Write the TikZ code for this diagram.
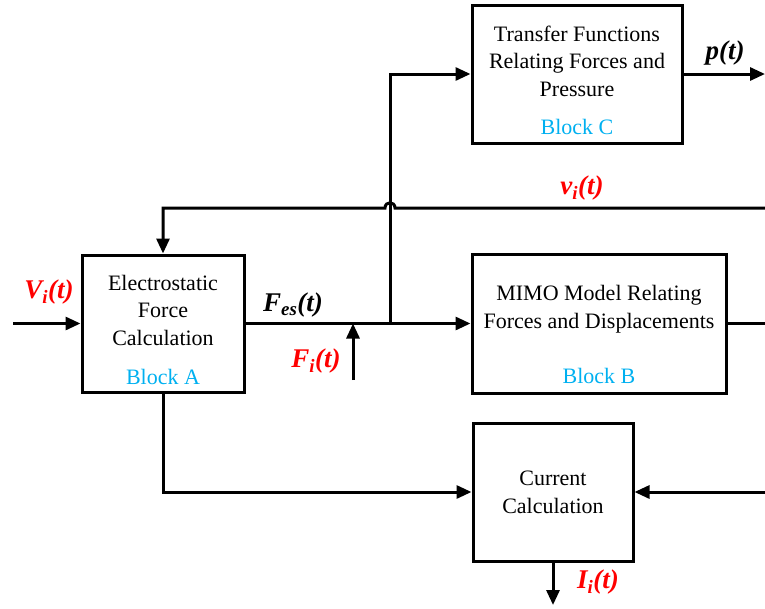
\documentclass[tikz,border=0pt]{standalone}
\usepackage{fontspec}
\setmainfont{Liberation Serif}
\usetikzlibrary{arrows.meta}
\definecolor{lblred}{HTML}{FF0000}
\definecolor{blkblue}{HTML}{00B0F0}
\tikzset{
  blk/.style={draw, line width=3pt, inner sep=0pt},
  wire/.style={line width=3pt},
  arr/.style={line width=3pt, -{Triangle[length=15pt,width=13pt]}},
  btxt/.style={align=center, font=\fontsize{22}{27.5}\selectfont, inner sep=0pt},
  bname/.style={text=blkblue, font=\fontsize{22}{27}\selectfont, inner sep=0pt},
  sig/.style={font=\fontsize{27}{30}\selectfont\bfseries\itshape, inner sep=0pt},
}
\begin{document}
\begin{tikzpicture}[x=1pt,y=-1pt]
\useasboundingbox (0,0) rectangle (765,608);
% blocks
\node[blk, minimum width=162pt, minimum height=137pt] (A) at (163,323.5) {};
\node[blk, minimum width=210pt, minimum height=138pt] (C) at (577,74) {};
\node[blk, minimum width=254pt, minimum height=139pt] (B) at (599,323.5) {};
\node[blk, minimum width=160pt, minimum height=138pt] (D) at (553,492) {};
% block texts
\node[btxt] (At) at (163,310) {Electrostatic\\Force\\Calculation};
\node[bname] (An) at (163,377) {Block A};
\node[btxt] (Ct) at (577,61) {Transfer Functions\\Relating Forces and\\Pressure};
\node[bname] (Cn) at (577,127) {Block C};
\node[btxt] (Bt) at (599,309) {MIMO Model Relating\\Forces and Displacements};
\node[bname] (Bn) at (599,376) {Block B};
\node[btxt] (Dt) at (553,492.5) {Current\\Calculation};
% free ends
\coordinate (vin) at (13,323.5);
\coordinate (junc) at (390,323.5);
\coordinate (fi) at (353,380);
\coordinate (fitop) at (353,323.5);
\coordinate (pout) at (765,74);
\coordinate (vr) at (765,208);
\coordinate (hopR) at (395,208);
\coordinate (hopL) at (385,208);
\coordinate (vl) at (163,208);
\coordinate (bout) at (765,323.5);
\coordinate (din) at (765,492);
\coordinate (iout) at (553,605);
% connectors
\draw[arr] (vin) -- (A.west);
\draw[arr] (A.east) -- (B.west);
\draw[arr] (junc) |- (C.west);
\draw[arr] (fi) -- (fitop);
\draw[arr] (C.east) -- (pout);
\draw[arr] (vr) -- (hopR) .. controls (395,201) and (385,201) .. (hopL) -- (vl) -- (A.north);
\draw[wire] (B.east) -- (bout);
\draw[arr] (A.south) |- (D.west);
\draw[arr] (din) -- (D.east);
\draw[arr] (D.south) -- (iout);
% signal labels
\node[sig, text=lblred] (Vl) at (49,292) {V\textsubscript{i}(t)};
\node[sig] (Fesl) at (293,305) {F\textsubscript{es}(t)};
\node[sig, text=lblred] (Fil) at (316,361) {F\textsubscript{i}(t)};
\node[sig, text=lblred] (vil) at (582,188) {v\textsubscript{i}(t)};
\node[sig] (pl) at (725,53) {p(t)};
\node[sig, text=lblred] (Il) at (598,582) {I\textsubscript{i}(t)};
\end{tikzpicture}
\end{document}
